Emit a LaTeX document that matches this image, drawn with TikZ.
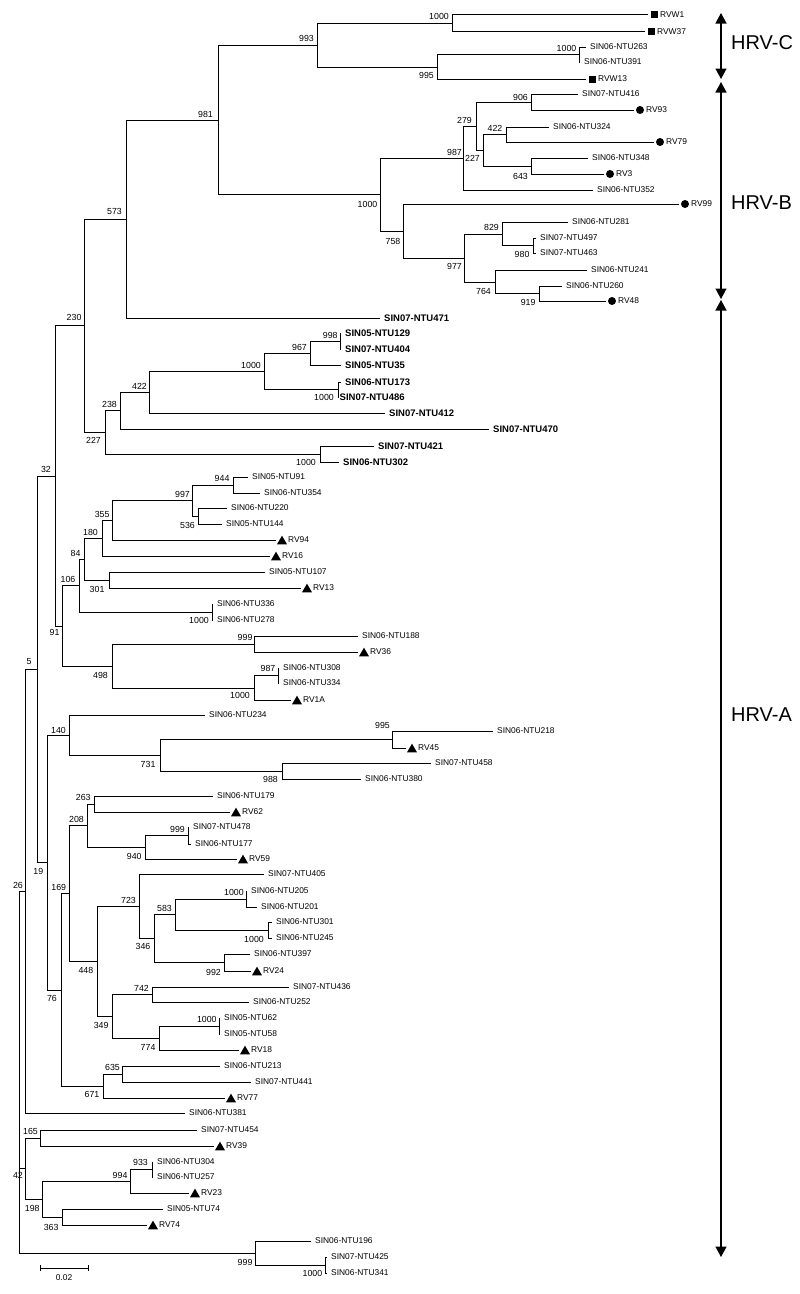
\documentclass[tikz,border=0pt]{standalone}
\usepackage{fontspec}
\setmainfont{Liberation Sans}
\usetikzlibrary{arrows.meta,shapes.geometric}
\newcommand\pleaf[5]{\coordinate (#1) at (#3,#4); \draw[br] (#2) |- (#1); \node[lab] (#1t) at ([xshift=4pt]#1) {#5};}
\newcommand\bleaf[5]{\coordinate (#1) at (#3,#4); \draw[br] (#2) |- (#1); \node[blab] (#1t) at ([xshift=4pt]#1) {#5};}
\newcommand\mleaf[6]{\coordinate (#1) at (#3,#4); \draw[br] (#2) |- (#1); \node[#5] (#1m) at ([xshift=6pt]#1) {}; \node[lab] (#1t) at ([xshift=12pt]#1) {#6};}
\newcommand\bsl[4]{\node[bs] (#1) at (#2,#3) {#4};}
\newcommand\edge[2]{\draw[br] (#1) |- (#2);}
\begin{document}
\begin{tikzpicture}[x=1pt,y=-1pt,
  br/.style={line width=0.9pt,black},
  lab/.style={inner sep=0pt,anchor=west,font=\fontsize{8.4}{10}\selectfont},
  blab/.style={inner sep=0pt,anchor=west,font=\fontsize{9.5}{11}\selectfont\bfseries},
  bs/.style={inner sep=0pt,anchor=east,font=\fontsize{8.8}{10}\selectfont},
  sqm/.style={fill=black,minimum size=7pt,inner sep=0pt},
  cim/.style={circle,fill=black,minimum size=8pt,inner sep=0pt},
  trm/.style={regular polygon,regular polygon sides=3,fill=black,minimum size=11.5pt,inner sep=0pt,yshift=-1.4pt},
  clade/.style={inner sep=0pt,anchor=west,font=\fontsize{20}{24}\selectfont},
  rng/.style={line width=1.4pt,arrows={Triangle[width=11pt,length=10.5pt]-Triangle[width=11pt,length=10.5pt]}}]
\fill[white] (0,0) rectangle (800,1294);
\useasboundingbox (0,0) rectangle (800,1294);
% internal nodes
\coordinate (nC1) at (452,23.2);
\coordinate (nC2) at (579,54.5);
\coordinate (n995C) at (437,67);
\coordinate (n993) at (317,45);
\coordinate (n906) at (531,102);
\coordinate (n422B) at (506,134.5);
\coordinate (n643) at (531,166);
\coordinate (n227B) at (483,150);
\coordinate (n279) at (476,126);
\coordinate (n987) at (463,158);
\coordinate (n980) at (533,245.5);
\coordinate (n829) at (502,234);
\coordinate (n919) at (539,293.5);
\coordinate (n764) at (495,282);
\coordinate (n977) at (464,258);
\coordinate (n758) at (403,231);
\coordinate (n1000B) at (380,194.5);
\coordinate (n981) at (218,120);
\coordinate (n573) at (126,219);
\coordinate (n998) at (340,341);
\coordinate (n967) at (310,353);
\coordinate (n1000d) at (338,389.5);
\coordinate (n1000u) at (264,371);
\coordinate (n422) at (149,392.5);
\coordinate (n238) at (120,410.5);
\coordinate (n1000e) at (320,454);
\coordinate (n227) at (105,432);
\coordinate (n230) at (84,325.5);
\coordinate (n944) at (233,485);
\coordinate (n536) at (198,516);
\coordinate (n997) at (192,500.5);
\coordinate (n355) at (112,520);
\coordinate (n180) at (102,538);
\coordinate (n301) at (109,580);
\coordinate (n84) at (84,559);
\coordinate (n1000f) at (212,612);
\coordinate (n106) at (79,585.5);
\coordinate (n999a) at (254,644);
\coordinate (n987a) at (278,675.5);
\coordinate (n1000g) at (254,688);
\coordinate (n498) at (112,666);
\coordinate (n91) at (62,626);
\coordinate (n32) at (55,476);
\coordinate (n995a) at (392,739.5);
\coordinate (n988) at (282,771);
\coordinate (n731) at (160,755);
\coordinate (n140) at (69,735);
\coordinate (n263) at (94,804);
\coordinate (n999b) at (188,835.5);
\coordinate (n940) at (145,847);
\coordinate (n208) at (87,825.5);
\coordinate (n1000h) at (246,899);
\coordinate (n1000i) at (268,930);
\coordinate (n583) at (175,914.5);
\coordinate (n992) at (224,962.5);
\coordinate (n346) at (154,938.5);
\coordinate (n723) at (139,906);
\coordinate (n742) at (152,994.5);
\coordinate (n1000j) at (219,1026);
\coordinate (n774) at (159,1038);
\coordinate (n349) at (112,1016);
\coordinate (n448) at (97,961);
\coordinate (n169) at (69,893.5);
\coordinate (n635) at (122,1074);
\coordinate (n671) at (103,1086);
\coordinate (n76) at (61,990);
\coordinate (n19) at (47,862.5);
\coordinate (n5) at (37,669);
\coordinate (n26) at (25,891);
\coordinate (n165) at (40,1138);
\coordinate (n933) at (152,1169.5);
\coordinate (n994) at (130,1181);
\coordinate (n363) at (62,1217);
\coordinate (n198) at (42,1199);
\coordinate (n42) at (25,1168.5);
\coordinate (n1000k) at (325,1265);
\coordinate (n999c) at (255,1253);
\coordinate (nroot) at (19,1072);
% internal edges
\edge{n993}{nC1} \edge{n993}{n995C} \edge{n995C}{nC2} \edge{n981}{n993}
\edge{n279}{n906} \edge{n279}{n227B} \edge{n227B}{n422B} \edge{n227B}{n643}
\edge{n987}{n279} \edge{n1000B}{n987} \edge{n1000B}{n758} \edge{n758}{n977}
\edge{n977}{n829} \edge{n977}{n764} \edge{n829}{n980} \edge{n764}{n919}
\edge{n981}{n1000B} \edge{n573}{n981} \edge{n230}{n573} \edge{n230}{n227}
\edge{n227}{n238} \edge{n227}{n1000e} \edge{n238}{n422} \edge{n422}{n1000u}
\edge{n1000u}{n967} \edge{n1000u}{n1000d} \edge{n967}{n998}
\edge{n32}{n230} \edge{n32}{n91} \edge{n91}{n106} \edge{n91}{n498}
\edge{n106}{n84} \edge{n106}{n1000f} \edge{n84}{n180} \edge{n84}{n301}
\edge{n180}{n355} \edge{n355}{n997} \edge{n997}{n944} \edge{n997}{n536}
\edge{n498}{n999a} \edge{n498}{n1000g} \edge{n1000g}{n987a}
\edge{n5}{n32} \edge{n5}{n19} \edge{n19}{n140} \edge{n19}{n76}
\edge{n140}{n731} \edge{n731}{n995a} \edge{n731}{n988}
\edge{n76}{n169} \edge{n76}{n671} \edge{n169}{n208} \edge{n169}{n448}
\edge{n208}{n263} \edge{n208}{n940} \edge{n940}{n999b}
\edge{n448}{n723} \edge{n448}{n349} \edge{n723}{n346} \edge{n346}{n583}
\edge{n346}{n992} \edge{n583}{n1000h} \edge{n583}{n1000i}
\edge{n349}{n742} \edge{n349}{n774} \edge{n774}{n1000j} \edge{n671}{n635}
\edge{n26}{n5} \edge{nroot}{n26} \edge{nroot}{n42} \edge{nroot}{n999c}
\edge{n42}{n165} \edge{n42}{n198} \edge{n198}{n994} \edge{n198}{n363}
\edge{n994}{n933} \edge{n999c}{n1000k}
% leaves HRV-C
\mleaf{RVW1}{nC1}{648}{14.7}{sqm}{RVW1}
\mleaf{RVW37}{nC1}{645}{31.7}{sqm}{RVW37}
\pleaf{NTU263}{nC2}{586}{47}{SIN06-NTU263}
\pleaf{NTU391}{nC2}{580}{62}{SIN06-NTU391}
\mleaf{RVW13}{n995C}{586}{79}{sqm}{RVW13}
% leaves HRV-B
\pleaf{NTU416}{n906}{578}{94}{SIN07-NTU416}
\mleaf{RV93}{n906}{634}{110}{cim}{RV93}
\pleaf{NTU324}{n422B}{549}{127}{SIN06-NTU324}
\mleaf{RV79}{n422B}{654}{142}{cim}{RV79}
\pleaf{NTU348}{n643}{588}{158}{SIN06-NTU348}
\mleaf{RV3}{n643}{604}{174}{cim}{RV3}
\pleaf{NTU352}{n987}{593}{190}{SIN06-NTU352}
\mleaf{RV99}{n758}{679}{204}{cim}{RV99}
\pleaf{NTU281}{n829}{568}{222}{SIN06-NTU281}
\pleaf{NTU497}{n980}{536}{238}{SIN07-NTU497}
\pleaf{NTU463}{n980}{536}{253}{SIN07-NTU463}
\pleaf{NTU241}{n764}{587}{270}{SIN06-NTU241}
\pleaf{NTU260}{n919}{562}{286}{SIN06-NTU260}
\mleaf{RV48}{n919}{606}{301}{cim}{RV48}
\bleaf{NTU471}{n573}{380}{318}{SIN07-NTU471}
% bold leaves
\bleaf{NTU129}{n998}{341}{333}{SIN05-NTU129}
\bleaf{NTU404}{n998}{341}{349}{SIN07-NTU404}
\bleaf{NTU35}{n967}{341}{365}{SIN05-NTU35}
\bleaf{NTU173}{n1000d}{341}{382}{SIN06-NTU173}
\coordinate (NTU486) at (338.5,397); \draw[br] (n1000d) |- (NTU486);
\node[blab] (NTU486t) at ([xshift=1pt]NTU486) {SIN07-NTU486};
\bleaf{NTU412}{n422}{385}{413}{SIN07-NTU412}
\bleaf{NTU470}{n238}{489}{429}{SIN07-NTU470}
\bleaf{NTU421}{n1000e}{374}{446}{SIN07-NTU421}
\bleaf{NTU302}{n1000e}{339}{462}{SIN06-NTU302}
% leaves HRV-A
\pleaf{NTU91}{n944}{248}{477}{SIN05-NTU91}
\pleaf{NTU354}{n944}{260}{493}{SIN06-NTU354}
\pleaf{NTU220}{n536}{227}{508}{SIN06-NTU220}
\pleaf{NTU144}{n536}{222}{524}{SIN05-NTU144}
\mleaf{RV94}{n355}{276}{540}{trm}{RV94}
\mleaf{RV16}{n180}{270}{556}{trm}{RV16}
\pleaf{NTU107}{n301}{265}{572}{SIN05-NTU107}
\mleaf{RV13}{n301}{301}{588}{trm}{RV13}
\pleaf{NTU336}{n1000f}{213}{604}{SIN06-NTU336}
\pleaf{NTU278}{n1000f}{213}{620}{SIN06-NTU278}
\pleaf{NTU188}{n999a}{358}{636}{SIN06-NTU188}
\mleaf{RV36}{n999a}{358}{652}{trm}{RV36}
\pleaf{NTU308}{n987a}{279}{668}{SIN06-NTU308}
\pleaf{NTU334}{n987a}{279}{683}{SIN06-NTU334}
\mleaf{RV1A}{n1000g}{291}{700}{trm}{RV1A}
\pleaf{NTU234}{n140}{205}{715}{SIN06-NTU234}
\pleaf{NTU218}{n995a}{493}{731}{SIN06-NTU218}
\mleaf{RV45}{n995a}{406}{748}{trm}{RV45}
\pleaf{NTU458}{n988}{431}{763}{SIN07-NTU458}
\pleaf{NTU380}{n988}{361}{779}{SIN06-NTU380}
\pleaf{NTU179}{n263}{213}{796}{SIN06-NTU179}
\mleaf{RV62}{n263}{230}{812}{trm}{RV62}
\pleaf{NTU478}{n999b}{189}{827}{SIN07-NTU478}
\pleaf{NTU177}{n999b}{191}{844}{SIN06-NTU177}
\mleaf{RV59}{n940}{237}{859}{trm}{RV59}
\pleaf{NTU405}{n723}{264}{874}{SIN07-NTU405}
\pleaf{NTU205}{n1000h}{247}{891}{SIN06-NTU205}
\pleaf{NTU201}{n1000h}{257}{907}{SIN06-NTU201}
\pleaf{NTU301}{n1000i}{272}{922}{SIN06-NTU301}
\pleaf{NTU245}{n1000i}{272}{938}{SIN06-NTU245}
\pleaf{NTU397}{n992}{250}{954}{SIN06-NTU397}
\mleaf{RV24}{n992}{251}{971}{trm}{RV24}
\pleaf{NTU436}{n742}{289}{987}{SIN07-NTU436}
\pleaf{NTU252}{n742}{249}{1002}{SIN06-NTU252}
\pleaf{NTU62}{n1000j}{220}{1018}{SIN05-NTU62}
\pleaf{NTU58}{n1000j}{220}{1034}{SIN05-NTU58}
\mleaf{RV18}{n774}{239}{1050}{trm}{RV18}
\pleaf{NTU213}{n635}{220}{1066}{SIN06-NTU213}
\pleaf{NTU441}{n635}{251}{1082}{SIN07-NTU441}
\mleaf{RV77}{n671}{225}{1098}{trm}{RV77}
\pleaf{NTU381}{n26}{185}{1113}{SIN06-NTU381}
\pleaf{NTU454}{n165}{197}{1130}{SIN07-NTU454}
\mleaf{RV39}{n165}{214}{1146}{trm}{RV39}
\pleaf{NTU304}{n933}{153}{1162}{SIN06-NTU304}
\pleaf{NTU257}{n933}{153}{1177}{SIN06-NTU257}
\mleaf{RV23}{n994}{189}{1193}{trm}{RV23}
\pleaf{NTU74}{n363}{163}{1209}{SIN05-NTU74}
\mleaf{RV74}{n363}{147}{1225}{trm}{RV74}
\pleaf{NTU196}{n999c}{311}{1241}{SIN06-NTU196}
\pleaf{NTU425}{n1000k}{327}{1257}{SIN07-NTU425}
\pleaf{NTU341}{n1000k}{327}{1273}{SIN06-NTU341}
% bootstrap values
\bsl{bC1}{449}{16.7}{1000} \bsl{b993}{314}{38}{993} \bsl{bC2}{576.5}{48}{1000} \bsl{b995C}{434}{75}{995}
\bsl{b906}{528}{97}{906} \bsl{b981}{213}{114}{981} \bsl{b279}{472}{120}{279} \bsl{b422B}{502.5}{128}{422}
\bsl{b987}{462}{152}{987} \bsl{b227B}{480}{158}{227} \bsl{b643}{528}{176}{643} \bsl{b1000B}{377.5}{204}{1000}
\bsl{b573}{122}{211}{573} \bsl{b829}{499}{227}{829} \bsl{b758}{400.5}{241}{758} \bsl{b980}{529.6}{254}{980}
\bsl{b977}{462}{266}{977} \bsl{b764}{491}{291}{764} \bsl{b919}{535.7}{302}{919} \bsl{b230}{81.6}{317}{230}
\bsl{b998}{337.8}{335}{998} \bsl{b967}{307}{347}{967} \bsl{b1000u}{261}{365}{1000} \bsl{b422}{147}{386}{422}
\bsl{b1000d}{334}{397}{1000} \bsl{b238}{117}{404}{238} \bsl{b227}{101}{440}{227} \bsl{b1000e}{316}{462}{1000}
\bsl{b32}{51}{469}{32}
\bsl{b944}{229.6}{478}{944} \bsl{b997}{190}{494}{997} \bsl{b355}{109.7}{514}{355} \bsl{b536}{195}{525}{536}
\bsl{b180}{98}{532}{180} \bsl{b84}{80.6}{553}{84} \bsl{b106}{75.5}{579}{106} \bsl{b301}{104.6}{589}{301}
\bsl{b1000f}{209}{620}{1000} \bsl{b91}{59.7}{632}{91} \bsl{b999a}{252.6}{637}{999} \bsl{b5}{31.6}{662}{5}
\bsl{b987a}{275.5}{668}{987} \bsl{b498}{108}{675}{498} \bsl{b1000g}{250}{695}{1000} \bsl{b995a}{390}{725}{995}
\bsl{b140}{66}{730}{140} \bsl{b731}{155.6}{764}{731} \bsl{b988}{278}{779}{988} \bsl{b263}{90.8}{797}{263}
\bsl{b208}{84}{819}{208} \bsl{b999b}{185}{829}{999} \bsl{b940}{141.8}{856}{940} \bsl{b19}{43.4}{871}{19}
\bsl{b26}{23}{885}{26} \bsl{b169}{66.3}{887}{169} \bsl{b1000h}{243.9}{892}{1000} \bsl{b723}{136}{900}{723}
\bsl{b583}{172}{908}{583} \bsl{b1000i}{264}{939}{1000} \bsl{b346}{150.5}{946}{346} \bsl{b448}{93.4}{970}{448}
\bsl{b992}{221}{972}{992} \bsl{b742}{149}{988}{742} \bsl{b76}{57}{998}{76} \bsl{b1000j}{216.8}{1019}{1000}
\bsl{b349}{108.7}{1025}{349} \bsl{b774}{155.6}{1047}{774} \bsl{b635}{120}{1067}{635} \bsl{b671}{99.5}{1094}{671}
\bsl{b165}{38}{1131}{165} \bsl{b933}{148}{1162}{933} \bsl{b42}{23}{1175}{42} \bsl{b994}{127.6}{1175}{994}
\bsl{b198}{39.8}{1208}{198} \bsl{b363}{58.7}{1227}{363} \bsl{b999c}{252.6}{1262}{999} \bsl{b1000k}{322.4}{1273}{1000}
% scale bar
\coordinate (sbL) at (40,1268); \coordinate (sbR) at (88,1268);
\draw[br] (sbL) -- (sbR);
\draw[br] ([yshift=3pt]sbL) -- ([yshift=-3pt]sbL);
\draw[br] ([yshift=3pt]sbR) -- ([yshift=-3pt]sbR);
\node[lab,anchor=center] (sbt) at (64,1278) {0.02};
% clade ranges
\coordinate (cCt) at (721,13); \coordinate (cCb) at (721,79);
\coordinate (cBt) at (721,82); \coordinate (cBb) at (721,299);
\coordinate (cAt) at (721,300); \coordinate (cAb) at (721,1257);
\draw[rng] (cCt) -- (cCb);
\draw[rng] (cBt) -- (cBb);
\draw[rng] (cAt) -- (cAb);
\node[clade] (hrvc) at (731,43) {HRV-C};
\node[clade] (hrvb) at (731,203) {HRV-B};
\node[clade] (hrva) at (731,715) {HRV-A};
\end{tikzpicture}
\end{document}
